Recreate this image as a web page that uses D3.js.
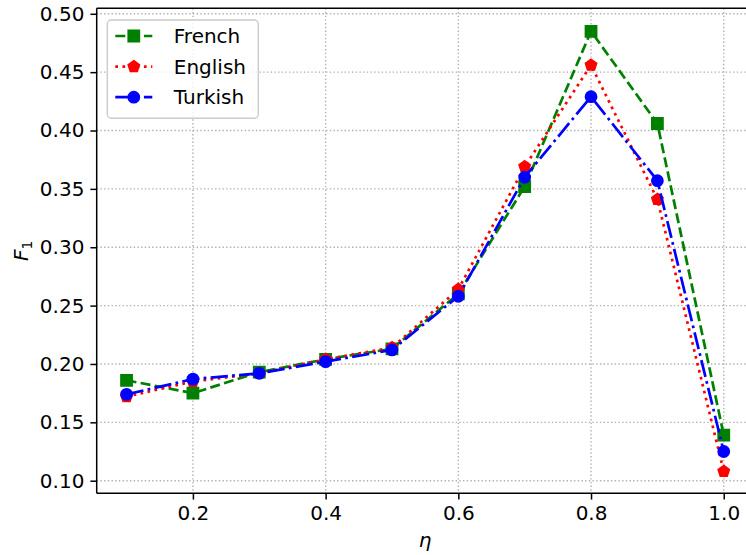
<!DOCTYPE html>
<html>
<head>
<meta charset="utf-8">
<script src="https://cdn.jsdelivr.net/npm/d3@7"></script>
<style>
  html, body { margin: 0; padding: 0; background: #fff; }
  svg { display: block; font-family: "DejaVu Sans", sans-serif; }
</style>
</head>
<body>
<svg id="chart" width="746" height="555"></svg>
<script>
// Threshold values on the x axis
const eta = [0.1, 0.2, 0.3, 0.4, 0.5, 0.6, 0.7, 0.8, 0.9, 1.0];

// F1 score per language
const french  = [0.186, 0.175, 0.193, 0.204, 0.213, 0.260, 0.352, 0.485, 0.406, 0.139];
const english = [0.172, 0.185, 0.192, 0.204, 0.214, 0.264, 0.369, 0.456, 0.341, 0.108];
const turkish = [0.174, 0.187, 0.192, 0.202, 0.212, 0.258, 0.360, 0.429, 0.357, 0.125];

const xTicks = [0.2, 0.4, 0.6, 0.8, 1.0];
const yTicks = [0.10, 0.15, 0.20, 0.25, 0.30, 0.35, 0.40, 0.45, 0.50];

const seriesNames = ["French", "English", "Turkish"];

(function () {
const svg = d3.select("#chart");
const mLeft = 96.7, mRight = 753.6, mTop = 8.3, mBottom = 493.3;
const fontSize = 20;
const lw = 2.7;

const x = d3.scaleLinear().domain([0.055, 1.045]).range([mLeft, mRight]);
const y = d3.scaleLinear().domain([0.0892, 0.5047]).range([mBottom, mTop]);

// Grid (dotted)
const grid = svg.append("g");
grid.selectAll("line.gx").data(xTicks).join("line")
  .attr("x1", d => x(d)).attr("x2", d => x(d))
  .attr("y1", mTop).attr("y2", mBottom)
  .attr("stroke", "#b0b0b0").attr("stroke-width", 1.4)
  .attr("stroke-dasharray", "1.4,2.3");
grid.selectAll("line.gy").data(yTicks).join("line")
  .attr("x1", mLeft).attr("x2", mRight)
  .attr("y1", d => y(d)).attr("y2", d => y(d))
  .attr("stroke", "#b0b0b0").attr("stroke-width", 1.4)
  .attr("stroke-dasharray", "1.4,2.3");

// Series styles
const styles = [
  { name: "French",  values: french,  color: "#008000", dash: [3.7*lw, 1.6*lw].join(","), marker: "square" },
  { name: "English", values: english, color: "#ff0000", dash: [1*lw, 1.65*lw].join(","), marker: "pentagon" },
  { name: "Turkish", values: turkish, color: "#0000ff", dash: [6.4*lw, 1.6*lw, 1*lw, 1.6*lw].join(","), marker: "circle" }
];

const ms = 11; // marker size in px

function markerPath(type, size) {
  const r = size / 2;
  if (type === "square") {
    return `M${-r},${-r}H${r}V${r}H${-r}Z`;
  }
  if (type === "pentagon") {
    const R = r * 1.05;
    let p = "";
    for (let i = 0; i < 5; i++) {
      const a = -Math.PI / 2 + i * 2 * Math.PI / 5;
      p += (i ? "L" : "M") + (R * Math.cos(a)).toFixed(2) + "," + (R * Math.sin(a)).toFixed(2);
    }
    return p + "Z";
  }
  return d3.arc()({ innerRadius: 0, outerRadius: r, startAngle: 0, endAngle: 2 * Math.PI });
}

const line = d3.line().x(d => x(d[0])).y(d => y(d[1]));

const plot = svg.append("g");
styles.forEach(s => {
  const pts = eta.map((e, i) => [e, s.values[i]]);
  const g = plot.append("g");
  g.append("path").datum(pts)
    .attr("d", line)
    .attr("fill", "none")
    .attr("stroke", s.color)
    .attr("stroke-width", lw)
    .attr("stroke-dasharray", s.dash)
    .attr("stroke-linejoin", "round");
  g.selectAll("path.m").data(pts).join("path")
    .attr("class", "m")
    .attr("transform", d => `translate(${x(d[0])},${y(d[1])})`)
    .attr("d", markerPath(s.marker, ms))
    .attr("fill", s.color)
    .attr("stroke", s.color)
    .attr("stroke-width", 1.8);
});

// Spines
const spine = svg.append("g").attr("stroke", "#000").attr("stroke-width", 1.5).attr("fill", "none");
spine.append("line").attr("x1", mLeft).attr("x2", mLeft).attr("y1", mTop).attr("y2", mBottom);
spine.append("line").attr("x1", mLeft).attr("x2", mRight).attr("y1", mBottom).attr("y2", mBottom);
spine.append("line").attr("x1", mLeft).attr("x2", mRight).attr("y1", mTop).attr("y2", mTop);
spine.append("line").attr("x1", mRight).attr("x2", mRight).attr("y1", mTop).attr("y2", mBottom);

// Axes
const xAxis = d3.axisBottom(x).tickValues(xTicks).tickFormat(d3.format(".1f")).tickSize(6.3).tickPadding(6);
const yAxis = d3.axisLeft(y).tickValues(yTicks).tickFormat(d3.format(".2f")).tickSize(6.3).tickPadding(6);

const gx = svg.append("g").attr("transform", `translate(0,${mBottom})`).call(xAxis);
const gy = svg.append("g").attr("transform", `translate(${mLeft},0)`).call(yAxis);
[gx, gy].forEach(g => {
  g.select(".domain").remove();
  g.selectAll(".tick line").attr("stroke", "#000").attr("stroke-width", 1.5);
  g.selectAll(".tick text").attr("fill", "#000")
    .style("font-family", "'DejaVu Sans', sans-serif")
    .style("font-size", fontSize + "px");
});

// Axis labels
svg.append("text")
  .attr("x", (mLeft + mRight) / 2)
  .attr("y", 547)
  .attr("text-anchor", "middle")
  .style("font-size", fontSize + "px")
  .style("font-style", "italic")
  .text("η");

const yl = svg.append("text")
  .attr("transform", `translate(28,${(mTop + mBottom) / 2}) rotate(-90)`)
  .attr("text-anchor", "middle")
  .style("font-size", fontSize + "px");
yl.append("tspan").style("font-style", "italic").text("F");
yl.append("tspan").attr("dy", 4).style("font-size", (fontSize * 0.7) + "px").text("1");

// Legend
const lg = svg.append("g").attr("transform", "translate(107.3,20)");
lg.append("rect")
  .attr("width", 151).attr("height", 98.3)
  .attr("rx", 4).attr("ry", 4)
  .attr("fill", "#fff").attr("fill-opacity", 0.8)
  .attr("stroke", "#cccccc").attr("stroke-width", 1.4);
styles.forEach((s, i) => {
  const cy = 16 + i * 30.6;
  const row = lg.append("g").attr("transform", `translate(0,${cy})`);
  row.append("line")
    .attr("x1", 8).attr("x2", 45)
    .attr("stroke", s.color).attr("stroke-width", lw)
    .attr("stroke-dasharray", s.dash);
  row.append("path")
    .attr("transform", "translate(26.5,0)")
    .attr("d", markerPath(s.marker, ms))
    .attr("fill", s.color).attr("stroke", s.color).attr("stroke-width", 1.8);
  row.append("text")
    .attr("x", 66.5).attr("y", 0)
    .attr("dy", "0.36em")
    .style("font-size", fontSize + "px")
    .text(seriesNames[i]);
});
})();
</script>
</body>
</html>
